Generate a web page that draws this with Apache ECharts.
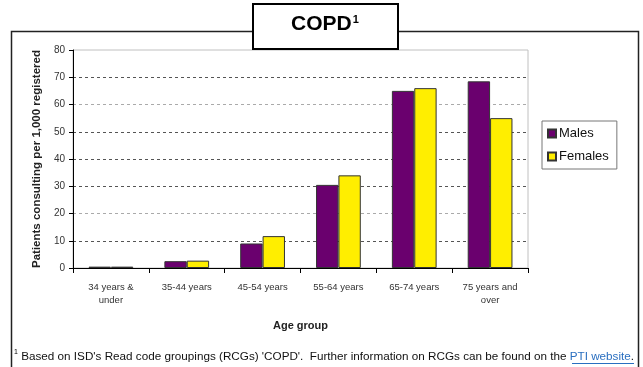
<!DOCTYPE html>
<html>
<head>
<meta charset="utf-8">
<script src="https://cdn.jsdelivr.net/npm/echarts@6/dist/echarts.min.js"></script>
<style>
html,body{margin:0;padding:0;background:#fff;}
#c{width:643px;height:367px;}
</style>
</head>
<body>
<div id="c"></div>
<script>
const categories = ['34 years &\nunder', '35-44 years', '45-54 years', '55-64 years', '65-74 years', '75 years and\nover'];
const males = [0.5, 2.5, 9, 30.5, 65, 68.5];
const females = [0.5, 2.7, 11.7, 34, 66, 55];
const yTicks = { min: 0, max: 80, interval: 10 };
const seriesNames = ['Males', 'Females'];

const chart = echarts.init(document.getElementById('c'));
const font = 'Liberation Sans, Arial, sans-serif';
chart.setOption({
  animation: false,
  backgroundColor: '#fff',
  grid: { left: 73, top: 50, right: 115, bottom: 99, show: true, borderColor: '#c0c0c0', borderWidth: 1, backgroundColor: 'transparent' },
  legend: {
    orient: 'vertical',
    left: 542, top: 121,
    width: 76,
    padding: [6, 8, 6, 5],
    itemWidth: 8, itemHeight: 8, itemGap: 10,
    borderColor: '#777', borderWidth: 1,
    icon: 'rect',
    data: seriesNames,
    textStyle: { fontFamily: font, fontSize: 13, color: '#111', padding: [0, 0, 0, -2] }
  },
  xAxis: {
    type: 'category',
    data: categories,
    name: 'Age group',
    nameLocation: 'middle',
    nameGap: 52,
    nameTextStyle: { fontFamily: font, fontSize: 11, fontWeight: 'bold', color: '#222' },
    axisLine: { lineStyle: { color: '#000', width: 1 } },
    axisTick: { show: true, length: 5, lineStyle: { color: '#000' } },
    axisLabel: { fontFamily: font, fontSize: 9.5, color: '#333', margin: 13, lineHeight: 13 }
  },
  yAxis: {
    type: 'value',
    min: yTicks.min, max: yTicks.max, interval: yTicks.interval,
    name: 'Patients consulting per 1,000 registered',
    nameLocation: 'middle',
    nameGap: 24,
    nameTextStyle: { fontFamily: font, fontSize: 11.5, fontWeight: 'bold', color: '#222' },
    axisLine: { show: true, lineStyle: { color: '#000', width: 1 } },
    axisTick: { show: true, length: 4, lineStyle: { color: '#000' } },
    axisLabel: { fontFamily: font, fontSize: 10, color: '#333', margin: 8 },
    splitLine: {
      show: true,
      lineStyle: { type: [3, 3], width: 1, color: ['#555', '#555', '#aaa', '#555', '#555', '#555', '#aaa', '#555', 'rgba(0,0,0,0)'] }
    }
  },
  series: [
    { name: seriesNames[0], type: 'bar', data: males, barGap: '0%', barCategoryGap: '41%',
      itemStyle: { color: '#6a006e', borderColor: '#333', borderWidth: 1 } },
    { name: seriesNames[1], type: 'bar', data: females,
      itemStyle: { color: '#ffee00', borderColor: '#333', borderWidth: 1 } }
  ],
  graphic: [
    { type: 'rect', shape: { x: 11.5, y: 31.5, width: 627, height: 400 }, style: { fill: 'none', stroke: '#222', lineWidth: 1.5 }, z: -1 },
    { type: 'rect', shape: { x: 253, y: 4, width: 145, height: 45 }, style: { fill: '#fff', stroke: '#000', lineWidth: 2 }, z: 10 },
    { type: 'text', left: 291, top: 14, z: 11,
      style: { text: '{a|COPD}{s|1}', rich: {
        a: { fontFamily: font, fontSize: 21, fontWeight: 'bold', fill: '#000' },
        s: { fontFamily: font, fontSize: 11, fontWeight: 'bold', fill: '#000', verticalAlign: 'top', padding: [0, 0, 9, 1] } } } },
    { type: 'text', left: 14, top: 349, z: 11,
      style: { text: '{s|1} {t|Based on ISD\'s Read code groupings (RCGs) \'COPD\'.  Further information on RCGs can be found on the }{l|PTI website}{t|.}', rich: {
        s: { fontFamily: font, fontSize: 7, fill: '#000', padding: [0, 0, 8, 0] },
        t: { fontFamily: font, fontSize: 11.7, fill: '#111' },
        l: { fontFamily: font, fontSize: 11.7, fill: '#2a6fc0' } } } },
    { type: 'line', shape: { x1: 572, y1: 363.5, x2: 634, y2: 363.5 }, style: { stroke: '#2a6fc0', lineWidth: 1 } }
  ]
});
</script>
</body>
</html>
